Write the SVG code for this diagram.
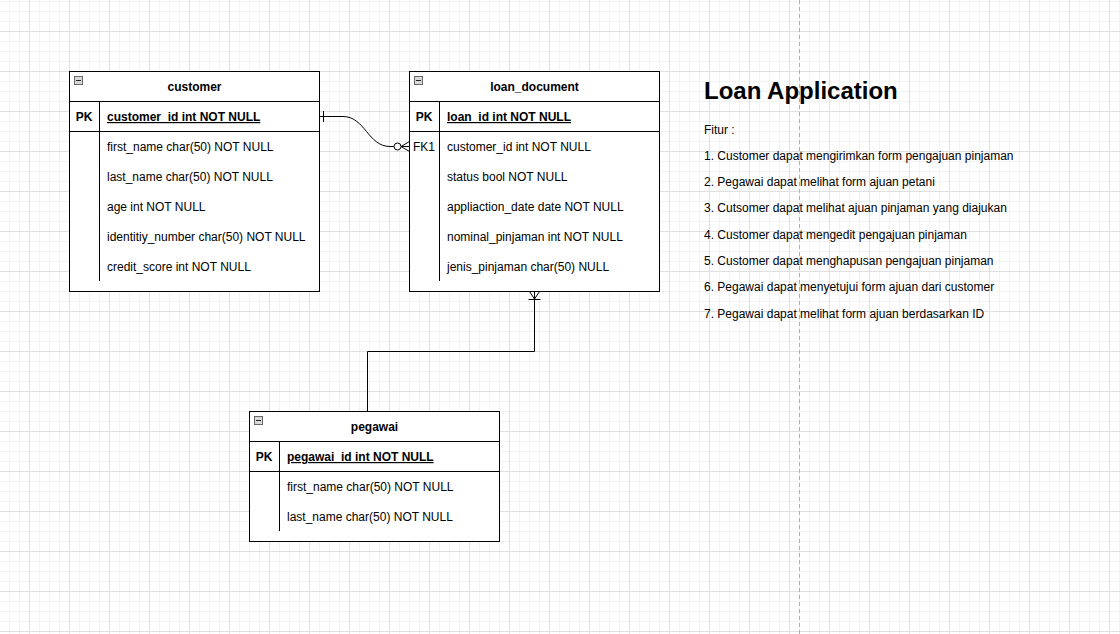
<svg xmlns="http://www.w3.org/2000/svg" width="1120" height="634" viewBox="0 0 1120 634">
<defs>
<pattern id="grid" patternUnits="userSpaceOnUse" x="29" y="31" width="40" height="40">
<rect x="10" y="0" width="1" height="40" fill="#f3f3f3"/>
<rect x="20" y="0" width="1" height="40" fill="#f3f3f3"/>
<rect x="30" y="0" width="1" height="40" fill="#f3f3f3"/>
<rect x="0" y="10" width="40" height="1" fill="#f3f3f3"/>
<rect x="0" y="20" width="40" height="1" fill="#f3f3f3"/>
<rect x="0" y="30" width="40" height="1" fill="#f3f3f3"/>
<rect x="0" y="0" width="1" height="40" fill="#e0e0e0"/>
<rect x="0" y="0" width="40" height="1" fill="#e0e0e0"/>
</pattern>
<g id="minus">
<rect x="0.5" y="0.5" width="8" height="8" fill="#d8d8d8" stroke="#666" stroke-width="1"/>
<line x1="2" y1="4.5" x2="7" y2="4.5" stroke="#222" stroke-width="1"/>
</g>
</defs>
<style>
.box{fill:#fff;stroke:#000;stroke-width:1}
.ln{stroke:#000;stroke-width:1;fill:none}
.t{font-family:"Liberation Sans",Arial,sans-serif;font-size:12px;fill:#000}
.b{font-weight:bold}
.hd{font-family:"Liberation Sans",Arial,sans-serif;font-size:12px;font-weight:bold;fill:#000;text-anchor:middle}
.u{text-decoration:underline}
.title{font-family:"Liberation Sans",Arial,sans-serif;font-size:24px;font-weight:bold;fill:#000}
</style>
<rect width="1120" height="634" fill="#fff"/>
<rect width="1120" height="634" fill="url(#grid)"/>
<line x1="799.5" y1="0" x2="799.5" y2="634" stroke="#b0b0b0" stroke-width="1" stroke-dasharray="4 3"/>

<g id="customer">
<rect class="box" x="69.5" y="71.5" width="250" height="220"/>
<line class="ln" x1="69.5" y1="101.5" x2="319.5" y2="101.5"/>
<line class="ln" x1="69.5" y1="131.5" x2="319.5" y2="131.5"/>
<line class="ln" x1="99.5" y1="101.5" x2="99.5" y2="281"/>
<use href="#minus" x="74" y="76"/>
<text class="hd" x="194.5" y="91">customer</text>
<text class="t b" x="84" y="121" text-anchor="middle">PK</text>
<text class="t b u" x="107" y="121">customer_id int NOT NULL</text>
<text class="t" x="107" y="151">first_name char(50) NOT NULL</text>
<text class="t" x="107" y="181">last_name char(50) NOT NULL</text>
<text class="t" x="107" y="211">age int NOT NULL</text>
<text class="t" x="107" y="241">identitiy_number char(50) NOT NULL</text>
<text class="t" x="107" y="271">credit_score int NOT NULL</text>
</g>

<g id="loan_document">
<rect class="box" x="409.5" y="71.5" width="250" height="220"/>
<line class="ln" x1="409.5" y1="101.5" x2="659.5" y2="101.5"/>
<line class="ln" x1="409.5" y1="131.5" x2="659.5" y2="131.5"/>
<line class="ln" x1="439.5" y1="101.5" x2="439.5" y2="281"/>
<use href="#minus" x="414" y="76"/>
<text class="hd" x="534.5" y="91">loan_document</text>
<text class="t b" x="424" y="121" text-anchor="middle">PK</text>
<text class="t b u" x="447" y="121">loan_id int NOT NULL</text>
<text class="t" x="424" y="151" text-anchor="middle">FK1</text>
<text class="t" x="447" y="151">customer_id int NOT NULL</text>
<text class="t" x="447" y="181">status bool NOT NULL</text>
<text class="t" x="447" y="211">appliaction_date date NOT NULL</text>
<text class="t" x="447" y="241">nominal_pinjaman int NOT NULL</text>
<text class="t" x="447" y="271">jenis_pinjaman char(50) NULL</text>
</g>

<g id="pegawai">
<rect class="box" x="249.5" y="411.5" width="250" height="130"/>
<line class="ln" x1="249.5" y1="441.5" x2="499.5" y2="441.5"/>
<line class="ln" x1="249.5" y1="471.5" x2="499.5" y2="471.5"/>
<line class="ln" x1="279.5" y1="441.5" x2="279.5" y2="531"/>
<use href="#minus" x="254" y="416"/>
<text class="hd" x="374.5" y="431">pegawai</text>
<text class="t b" x="264" y="461" text-anchor="middle">PK</text>
<text class="t b u" x="287" y="461">pegawai_id int NOT NULL</text>
<text class="t" x="287" y="491">first_name char(50) NOT NULL</text>
<text class="t" x="287" y="521">last_name char(50) NOT NULL</text>
</g>

<g id="connectors">
<path class="ln" d="M319.5,116.5 L343,116.5 C365,116.5 368,146.5 390,146.5 L394,146.5"/>
<line class="ln" x1="323.5" y1="111" x2="323.5" y2="122"/>
<circle class="ln" cx="397.5" cy="146.5" r="3.5"/>
<path class="ln" d="M401,146.5 L409.5,146.5 M401,146.5 L409.5,141.5 M401,146.5 L409.5,151.5"/>
<path class="ln" d="M367.5,411.5 L367.5,351.5 L534.5,351.5 L534.5,291.5"/>
<path class="ln" d="M529.5,291.5 L534.5,299 L539.5,291.5 M528.5,299.5 L540.5,299.5"/>
</g>

<g id="notes">
<text class="title" x="704" y="99">Loan Application</text>
<text class="t" x="704" y="134">Fitur :</text>
<text class="t" x="704" y="160">1. Customer dapat mengirimkan form pengajuan pinjaman</text>
<text class="t" x="704" y="186">2. Pegawai dapat melihat form ajuan petani</text>
<text class="t" x="704" y="212">3. Cutsomer dapat melihat ajuan pinjaman yang diajukan</text>
<text class="t" x="704" y="239">4. Customer dapat mengedit pengajuan pinjaman</text>
<text class="t" x="704" y="265">5. Customer dapat menghapusan pengajuan pinjaman</text>
<text class="t" x="704" y="291">6. Pegawai dapat menyetujui form ajuan dari customer</text>
<text class="t" x="704" y="318">7. Pegawai dapat melihat form ajuan berdasarkan ID</text>
</g>
</svg>
